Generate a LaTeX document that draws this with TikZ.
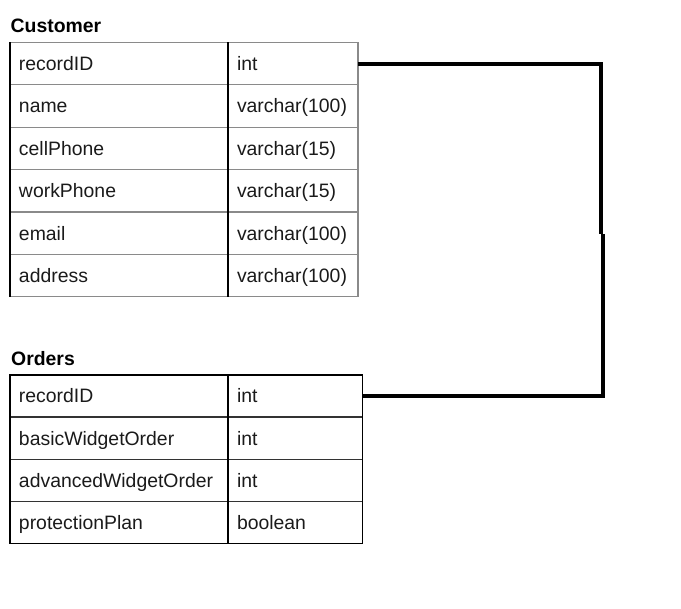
\documentclass[tikz,border=0pt]{standalone}
\usepackage{fontspec}
\setmainfont{Liberation Sans}
\usetikzlibrary{positioning}
\definecolor{cellgray}{HTML}{8A8A8A}
\definecolor{celltext}{HTML}{1A1A1A}

\begin{document}
\begin{tikzpicture}[x=1pt, y=-1pt,
    cell/.style={draw=cellgray, line width=1.2pt, rectangle, outer sep=0pt,
      inner xsep=9pt, inner ysep=0pt, minimum height=42.4pt,
      text height=13.8pt, text depth=0pt, align=left, text=celltext,
      font=\fontsize{19.4}{22}\selectfont},
    namecell/.style={cell, text width=200pt},
    custtype/.style={cell, text width=112pt},
    ordtype/.style={cell, text width=116.7pt},
    ordcell/.style={draw=black!80},
    title/.style={anchor=base west, inner sep=0pt, font=\fontsize{19.4}{22}\selectfont\bfseries},
    link/.style={line width=3.8pt, black}]
        \useasboundingbox (0,0) rectangle (681,609);
        % Customer table
        \node[title] (custTitle) at (10.5,32.3) {Customer};
        \node[namecell, anchor=north west] (c1) at (10,42.5) {recordID};
        \node[namecell, below=0pt of c1] (c2) {name};
        \node[namecell, below=0pt of c2] (c3) {cellPhone};
        \node[namecell, below=0pt of c3] (c4) {workPhone};
        \node[namecell, below=0pt of c4] (c5) {email};
        \node[namecell, below=0pt of c5] (c6) {address};
        \node[custtype, right=0pt of c1] (c1t) {int};
        \node[custtype, right=0pt of c2] (c2t) {varchar(100)};
        \node[custtype, right=0pt of c3] (c3t) {varchar(15)};
        \node[custtype, right=0pt of c4] (c4t) {varchar(15)};
        \node[custtype, right=0pt of c5] (c5t) {varchar(100)};
        \node[custtype, right=0pt of c6] (c6t) {varchar(100)};
        \draw[black, line width=1.2pt] (c1.north west) -- (c6.south west);
        \draw[black, line width=1.2pt] (c1t.north west) -- (c6t.south west);
        % Orders table
        \node[title] (ordTitle) at (11,365.7) {Orders};
        \node[namecell, ordcell, anchor=north west, minimum height=42.1pt] (o1) at (10,375) {recordID};
        \node[namecell, ordcell, minimum height=42.1pt, below=0pt of o1] (o2) {basicWidgetOrder};
        \node[namecell, ordcell, minimum height=42.1pt, below=0pt of o2] (o3) {advancedWidgetOrder};
        \node[namecell, ordcell, minimum height=42.1pt, below=0pt of o3] (o4) {protectionPlan};
        \node[ordtype, ordcell, minimum height=42.1pt, right=0pt of o1] (o1t) {int};
        \node[ordtype, ordcell, minimum height=42.1pt, right=0pt of o2] (o2t) {int};
        \node[ordtype, ordcell, minimum height=42.1pt, right=0pt of o3] (o3t) {int};
        \node[ordtype, ordcell, minimum height=42.1pt, right=0pt of o4] (o4t) {boolean};
        \draw[black, line width=1.2pt] (o1.north west) rectangle (o4t.south east);
        \draw[black, line width=1.2pt] (o1t.north west) -- (o4t.south west);
        % Link between the two recordID rows
        \coordinate (j1) at (601,234);
        \coordinate (j2) at (603,234);
        \draw[link] (c1t.east) -| (j1);
        \draw[link] (o1t.east) -| (j2);
      \end{tikzpicture}
\end{document}
